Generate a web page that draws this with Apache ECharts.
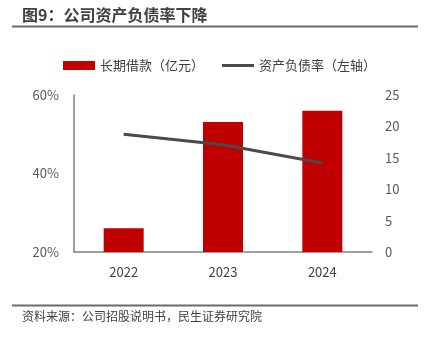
<!DOCTYPE html>
<html>
<head>
<meta charset="utf-8">
<script src="https://cdn.jsdelivr.net/npm/echarts@6/dist/echarts.min.js"></script>
<style>html,body{margin:0;padding:0;background:#fff;}#main{width:432px;height:338px;}</style>
</head>
<body>
<div id="main"></div>
<script>
var categories = ['2022', '2023', '2024'];
var loanValues = [3.8, 20.7, 22.5];
var debtRatioValues = [0.50, 0.473, 0.427];
var leftTicks = ['20%', '40%', '60%'];
var titleText = '图9：公司资产负债率下降';
var sourceText = '资料来源：公司招股说明书，民生证券研究院';
var seriesNames = ['长期借款（亿元）', '资产负债率（左轴）'];

var FONT = '"Noto Sans CJK SC", "Noto Sans", sans-serif';
var chart = echarts.init(document.getElementById('main'), null, {renderer: 'canvas'});
chart.setOption({
  animation: false,
  backgroundColor: '#fff',
  textStyle: {fontFamily: FONT},
  grid: {left: 74, right: 60, top: 95, bottom: 86},
  legend: {
    left: 58, top: 54,
    itemWidth: 32, itemHeight: 9, itemGap: 18,
    textStyle: {fontSize: 13, color: '#404040', fontFamily: FONT},
    data: [
      {name: seriesNames[0], icon: 'rect'},
      {name: seriesNames[1], icon: 'path://M0,0 L32,0 L32,3 L0,3 Z'}
    ]
  },
  xAxis: {
    type: 'category', data: categories,
    axisLine: {show: true, lineStyle: {color: '#808080', width: 1.5}},
    axisTick: {show: false},
    axisLabel: {fontSize: 13, color: '#404040', margin: 14, fontFamily: FONT}
  },
  yAxis: [
    {
      type: 'value', min: 0.2, max: 0.6, interval: 0.2,
      axisLine: {show: true, lineStyle: {color: '#808080', width: 1.5}},
      axisTick: {show: false},
      splitLine: {show: false},
      axisLabel: {fontSize: 13, color: '#595959', margin: 15, fontFamily: FONT,
        formatter: function (v) { var i = Math.round((v - 0.2) / 0.2); return leftTicks[i] || ''; }}
    },
    {
      type: 'value', min: 0, max: 25, interval: 5, position: 'right',
      axisLine: {show: false}, axisTick: {show: false}, splitLine: {show: false},
      axisLabel: {fontSize: 13, color: '#595959', margin: 13, fontFamily: FONT}
    }
  ],
  series: [
    {
      name: seriesNames[0], type: 'bar', yAxisIndex: 1, data: loanValues,
      barWidth: 40, itemStyle: {color: '#c00000'}
    },
    {
      name: seriesNames[1], type: 'line', yAxisIndex: 0, data: debtRatioValues,
      symbol: 'none', lineStyle: {color: '#4a4a4a', width: 3},
      itemStyle: {color: '#4a4a4a'}
    }
  ],
  graphic: [
    {type: 'text', left: 22, top: 7, style: {text: titleText, fontSize: 16, fontWeight: 'bold', fill: '#404040', fontFamily: FONT}},
    {type: 'line', shape: {x1: 12, y1: 26.5, x2: 418, y2: 26.5}, style: {stroke: '#6b6b6b', lineWidth: 2}},
    {type: 'line', shape: {x1: 12, y1: 305.5, x2: 418, y2: 305.5}, style: {stroke: '#6b6b6b', lineWidth: 2}},
    {type: 'text', left: 22, top: 310, style: {text: sourceText, fontSize: 12, fill: '#404040', fontFamily: FONT}}
  ]
});
</script>
</body>
</html>
